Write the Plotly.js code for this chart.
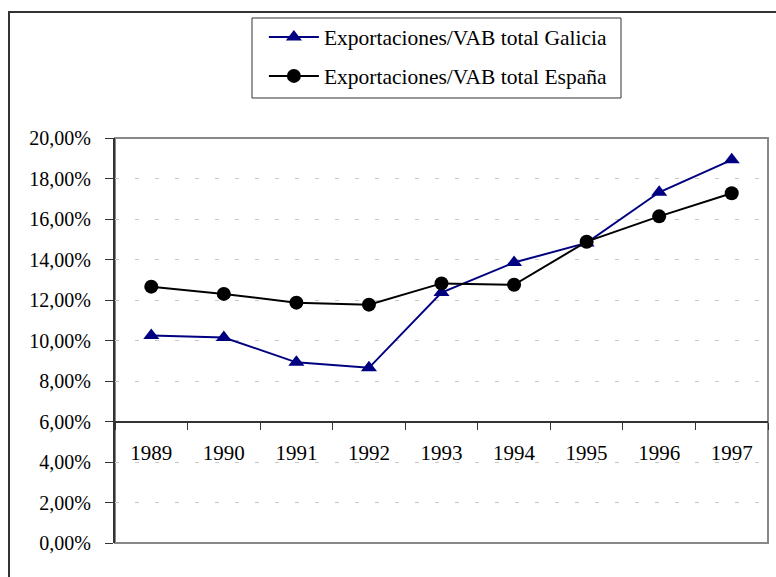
<!DOCTYPE html>
<html>
<head>
<meta charset="utf-8">
<script src="https://cdn.plot.ly/plotly-3.0.1.min.js"></script>
<style>
  html, body { margin: 0; padding: 0; background: #fff; }
  #wrap { position: relative; width: 776px; height: 577px; overflow: hidden; }
  #frame { position: absolute; left: 8px; top: 11px; width: 800px; height: 600px;
           border-left: 2px solid #333; border-top: 2px solid #333; pointer-events: none; }
  #chart { position: absolute; left: 0; top: 0; width: 776px; height: 577px; }
</style>
</head>
<body>
<div id="wrap">
  <div id="chart"></div>
  <div id="frame"></div>
</div>
<script>
const years = ["1989", "1990", "1991", "1992", "1993", "1994", "1995", "1996", "1997"];
const galicia = [10.25, 10.15, 8.92, 8.65, 12.37, 13.85, 14.82, 17.32, 18.92];
const espana = [12.66, 12.30, 11.87, 11.77, 12.82, 12.75, 14.88, 16.13, 17.27];
const nombreGalicia = "Exportaciones/VAB total Galicia";
const nombreEspana = "Exportaciones/VAB total España";

const fuente = "'Liberation Serif', 'Times New Roman', serif";

Plotly.newPlot("chart", [
  {
    x: years, y: galicia, name: nombreGalicia, legendgroup: "g",
    type: "scatter", mode: "lines+markers",
    line: { color: "#000080", width: 2 },
    marker: { symbol: "triangle-up", size: 14, color: "#000080" },
  },
  {
    x: years, y: espana, name: nombreEspana, legendgroup: "e",
    type: "scatter", mode: "lines+markers",
    line: { color: "#000000", width: 2 },
    marker: { symbol: "circle", size: 14, color: "#000000" },
  },
], {
  width: 776, height: 577,
  margin: { l: 115, r: 8, t: 138, b: 34 },
  paper_bgcolor: "rgba(0,0,0,0)",
  plot_bgcolor: "#fff",
  font: { family: fuente, size: 20, color: "#000" },
  separators: ",.",
  showlegend: true,
  legend: {
    x: 0.228, xanchor: "left", y: 1.30, yanchor: "top",
    bgcolor: "rgba(0,0,0,0)", borderwidth: 0,
    traceorder: "grouped", tracegroupgap: 8, itemwidth: 50,
    font: { family: fuente, size: 21.5, color: "#000" },
  },
  xaxis: {
    type: "category", range: [-0.5, 8.5],
    anchor: "free", position: 0.3,
    showline: true, linecolor: "#333", linewidth: 2,
    showgrid: false, zeroline: false,
    ticks: "outside", tickson: "boundaries", ticklen: 7, tickcolor: "#333",
    ticklabelstandoff: 12,
    tickfont: { family: fuente, size: 21, color: "#000" },
  },
  yaxis: {
    range: [0, 20], dtick: 2, tickformat: ".2f", ticksuffix: "%",
    showline: true, linecolor: "#333", linewidth: 2,
    ticks: "outside", ticklen: 8, tickcolor: "#333",
    ticklabelstandoff: 10,
    tickfont: { family: fuente, size: 20, color: "#000" },
    showgrid: true, gridcolor: "#c8c8c8", griddash: "4px,16px", gridwidth: 1,
    zeroline: false,
  },
  shapes: [
    {
      type: "rect", xref: "paper", yref: "paper", x0: 0, x1: 1, y0: 0, y1: 1,
      line: { color: "#888", width: 2 }, layer: "below",
    },
    {
      // recuadro de la leyenda
      type: "rect", xref: "paper", yref: "paper",
      x0: 0.2098, x1: 0.7749, y0: 1.0988, y1: 1.2963,
      line: { color: "#333", width: 1 }, fillcolor: "#fff", layer: "below",
    },
  ],
}, { displayModeBar: false, staticPlot: true });
</script>
</body>
</html>
